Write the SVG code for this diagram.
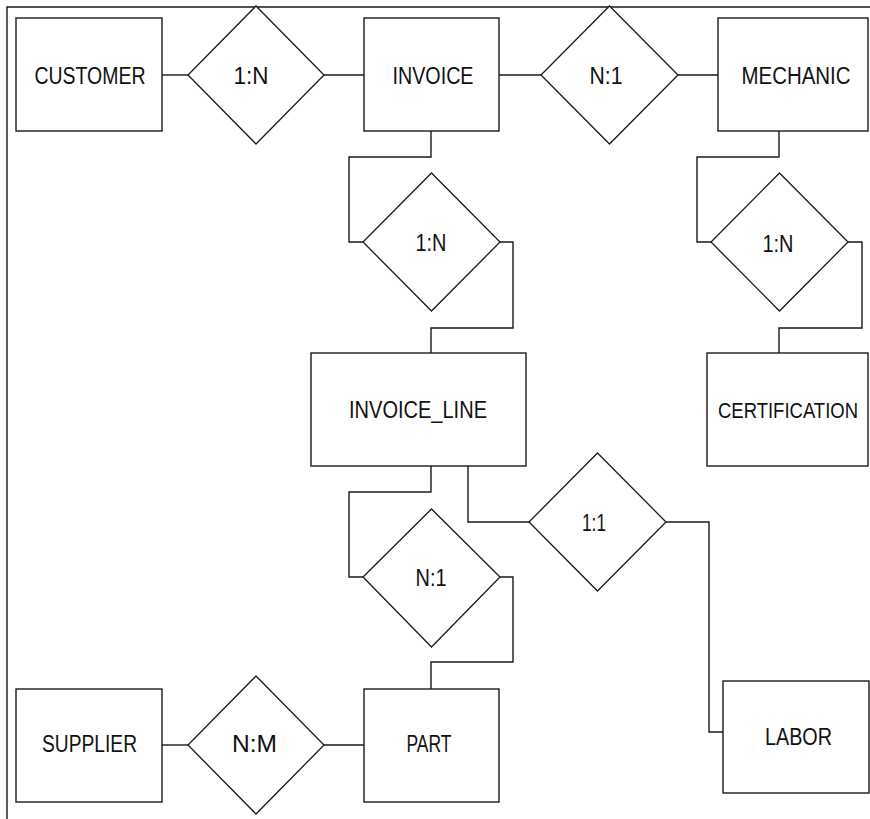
<svg xmlns="http://www.w3.org/2000/svg" width="870" height="819" viewBox="0 0 870 819">
<style>
.box{fill:#fff;stroke:#1a1a1a;stroke-width:1.4}
.rel{fill:#fff;stroke:#1a1a1a;stroke-width:1.3}
.ln{fill:none;stroke:#1a1a1a;stroke-width:1.4}
text{font-family:"Liberation Sans",Arial,sans-serif;font-size:23px;fill:#111;text-anchor:middle}
</style>
<rect width="870" height="819" fill="#fff"/>
<g id="frame"><polyline class="ln" points="7,819 7,7 870,7"/></g>
<g id="connectors">
<line class="ln" x1="162" y1="75" x2="188" y2="75"/>
<line class="ln" x1="324" y1="75" x2="364" y2="75"/>
<line class="ln" x1="499" y1="75" x2="541" y2="75"/>
<line class="ln" x1="678" y1="75" x2="718" y2="75"/>
<polyline class="ln" points="431,131 431,157 349,157 349,242 363,242"/>
<polyline class="ln" points="500,242 513,242 513,328 431,328 431,353"/>
<polyline class="ln" points="779,131 779,157 697,157 697,242 711,242"/>
<polyline class="ln" points="848,242 862,242 862,328 779,328 779,353"/>
<polyline class="ln" points="431,466 431,492 349,492 349,577 363,577"/>
<polyline class="ln" points="500,577 513,577 513,662 431,662 431,689"/>
<polyline class="ln" points="468,466 468,522 529,522"/>
<polyline class="ln" points="666,522 709,522 709,732 723,732"/>
<line class="ln" x1="162" y1="745" x2="188" y2="745"/>
<line class="ln" x1="324" y1="745" x2="364" y2="745"/>
</g>
<g id="customer"><rect class="box" x="16" y="18" width="146" height="113"/><text x="90" y="83.5" textLength="111" lengthAdjust="spacingAndGlyphs">CUSTOMER</text></g>
<g id="rel-customer-invoice"><polygon class="rel" points="256,6 324,75 256,144 188,75"/><text x="251" y="83.5" textLength="35" lengthAdjust="spacingAndGlyphs">1:N</text></g>
<g id="invoice"><rect class="box" x="364" y="18" width="135" height="113"/><text x="433" y="83.5" textLength="81" lengthAdjust="spacingAndGlyphs">INVOICE</text></g>
<g id="rel-invoice-mechanic"><polygon class="rel" points="609.5,6 678,75 609.5,144 541,75"/><text x="606" y="84" textLength="33" lengthAdjust="spacingAndGlyphs">N:1</text></g>
<g id="mechanic"><rect class="box" x="718" y="18" width="150" height="113"/><text x="796" y="83.5" textLength="109" lengthAdjust="spacingAndGlyphs">MECHANIC</text></g>
<g id="rel-invoice-line"><polygon class="rel" points="431.5,173 500,242 431.5,311 363,242"/><text x="431" y="251" textLength="31" lengthAdjust="spacingAndGlyphs">1:N</text></g>
<g id="rel-mechanic-cert"><polygon class="rel" points="779.5,173 848,242 779.5,311 711,242"/><text x="778" y="252" textLength="31" lengthAdjust="spacingAndGlyphs">1:N</text></g>
<g id="invoice_line"><rect class="box" x="311" y="353" width="215" height="113"/><text x="418" y="418" textLength="138" lengthAdjust="spacingAndGlyphs">INVOICE_LINE</text></g>
<g id="certification"><rect class="box" x="707" y="353" width="161" height="113"/><text x="788" y="345.5" transform="scale(1,1.21)" style="font-size:19px" textLength="140" lengthAdjust="spacingAndGlyphs">CERTIFICATION</text></g>
<g id="rel-line-part"><polygon class="rel" points="431.5,509 500,577 431.5,647 363,577"/><text x="431" y="586" textLength="31" lengthAdjust="spacingAndGlyphs">N:1</text></g>
<g id="rel-line-labor"><polygon class="rel" points="597.5,453 666,522 597.5,591 529,522"/><text x="594" y="531" textLength="24" lengthAdjust="spacingAndGlyphs">1:1</text></g>
<g id="labor"><rect class="box" x="723" y="681" width="146" height="112"/><text x="798.5" y="745" textLength="67" lengthAdjust="spacingAndGlyphs">LABOR</text></g>
<g id="supplier"><rect class="box" x="16" y="689" width="146" height="113"/><text x="89.5" y="752" textLength="95" lengthAdjust="spacingAndGlyphs">SUPPLIER</text></g>
<g id="rel-supplier-part"><polygon class="rel" points="256,676 324,745 256,814 188,745"/><text x="254.5" y="752" textLength="45" lengthAdjust="spacingAndGlyphs">N:M</text></g>
<g id="part"><rect class="box" x="364" y="689" width="135" height="113"/><text x="429" y="752" textLength="45" lengthAdjust="spacingAndGlyphs">PART</text></g>
</svg>
